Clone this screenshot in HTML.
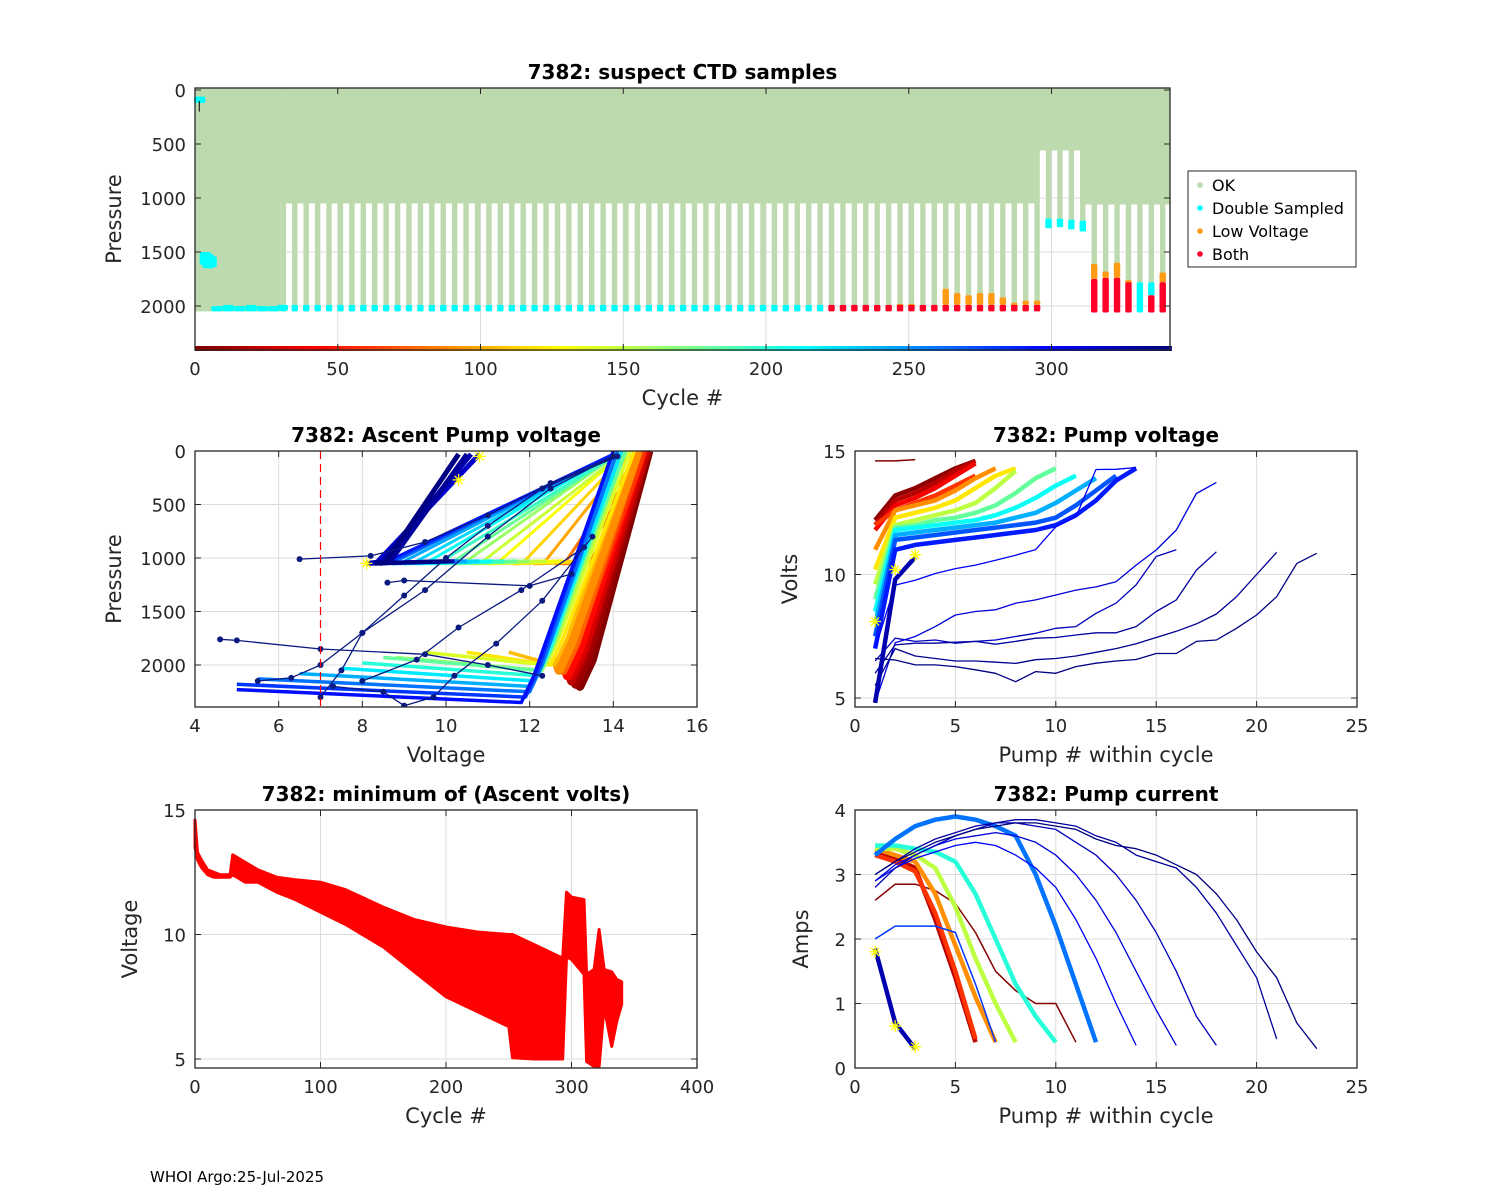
<!DOCTYPE html>
<html><head><meta charset="utf-8"><style>
html,body{margin:0;padding:0;background:#fff;}
svg{display:block;font-family:"DejaVu Sans","Liberation Sans",sans-serif;}
</style></head><body>
<svg id="fig" width="1500" height="1200" viewBox="0 0 1500 1200" xmlns="http://www.w3.org/2000/svg">
<rect x="0" y="0" width="1500" height="1200" fill="#fff"/>
<text x="150" y="1182" font-size="15" fill="#000">WHOI Argo:25-Jul-2025</text>
</svg>
<script>
// ---------- DATA: top chart (suspect CTD samples) ----------
const segStart = [0, 30, 295, 311];
const segEnd = [30, 295, 311, 341.5];
const segDepth = [2050, 1050, 560, 1060];
const deepCyc = [30,34,38,42,46,50,54,58,62,66,70,74,78,82,86,90,94,98,102,106,110,114,118,122,126,130,134,138,142,146,150,154,158,162,166,170,174,178,182,186,190,194,198,202,206,210,214,218,222,226,230,234,238,242,246,250,254,258,262,266,270,274,278,282,286,290,294,298,302,306,310,314,318,322,326,330,334,338];
const deepP = [2050,2050,2050,2050,2050,2050,2050,2050,2050,2050,2050,2050,2050,2050,2050,2050,2050,2050,2050,2050,2050,2050,2050,2050,2050,2050,2050,2050,2050,2050,2050,2050,2050,2050,2050,2050,2050,2050,2050,2050,2050,2050,2050,2050,2050,2050,2050,2050,2050,2050,2050,2050,2050,2050,2050,2050,2050,2050,2050,2050,2050,2050,2050,2050,2050,2050,2050,1280,1270,1290,1310,2060,2060,2060,2060,2060,2060,2060];
const orangeTop = [null,null,null,null,null,null,null,null,null,null,null,null,null,null,null,null,null,null,null,null,null,null,null,null,null,null,null,null,null,null,null,null,null,null,null,null,null,null,null,null,null,null,null,null,null,null,null,null,null,null,null,null,null,null,1980,1980,null,null,1840,1880,1900,1880,1880,1920,1970,1950,1950,null,null,null,null,1610,1680,1600,1760,null,null,1690];
const redTop = [null,null,null,null,null,null,null,null,null,null,null,null,null,null,null,null,null,null,null,null,null,null,null,null,null,null,null,null,null,null,null,null,null,null,null,null,null,null,null,null,null,null,null,null,null,null,null,null,1990,1990,1990,1990,1990,1990,1990,1990,1990,1990,1990,1990,1990,1990,1990,1990,1990,1990,1990,null,null,null,null,1750,1740,1740,1780,null,1900,1780];
const cyanTop = [1990,1990,1990,1990,1990,1990,1990,1990,1990,1990,1990,1990,1990,1990,1990,1990,1990,1990,1990,1990,1990,1990,1990,1990,1990,1990,1990,1990,1990,1990,1990,1990,1990,1990,1990,1990,1990,1990,1990,1990,1990,1990,1990,1990,1990,1990,1990,1990,null,null,null,null,null,null,null,null,null,null,null,null,null,null,null,null,null,null,null,1190,1190,1200,1210,null,null,null,null,1780,1780,null];
const earlyFlagCyc = [0, 2, 3, 4, 6, 10, 14, 18, 22, 26, 29];
const earlyFlagTop = [60, 1500, 1520, 1540, 2000, 1990, 2000, 1990, 2000, 2000, 1990];
const earlyFlagBot = [120, 1620, 1650, 1640, 2050, 2050, 2050, 2050, 2050, 2050, 2040];
const topXTicks = [0, 50, 100, 150, 200, 250, 300];
const topYTicks = [0, 500, 1000, 1500, 2000];

// ---------- DATA: ascent pump voltage ----------
const deepCycA = [2,10,20,30,45,60,75,90,105,120,140,160,180,200,220,240,260,280,294];
const firstV = [13.1,13.0,12.9,12.9,12.8,12.8,12.7,12.6,11.5,10.5,9.5,8.8,8.5,8.0,7.5,6.5,5.5,5.0,5.0];
const botV = [13.2,13.1,13.0,13.0,12.9,12.8,12.8,12.7,12.6,12.5,12.4,12.3,12.2,12.2,12.1,12.0,12.0,11.9,11.8];
const botP = [2200,2180,2150,2100,2100,2050,2050,2050,2000,2000,2000,2050,2050,2100,2150,2200,2250,2300,2350];
const topV = [14.85,14.8,14.8,14.75,14.7,14.7,14.6,14.6,14.5,14.5,14.4,14.3,14.3,14.2,14.2,14.1,14.1,14.0,14.0];
const shalCyc = [34,50,66,82,98,114,130,146,162,178,194,210,226,242,258,274,290,316,324,332,340];
const shalV1 = [13.2,13.0,12.8,12.6,12.1,11.6,11.0,10.6,10.2,9.9,9.6,9.3,9.0,8.7,8.5,8.4,8.3,8.1,8.2,8.4,8.3];
const shalTopV = [14.8,14.7,14.7,14.6,14.4,14.3,14.2,14.2,14.1,14.1,14.1,14.0,14.0,14.0,14.0,14.0,14.0,10.8,10.6,10.5,10.3];
const oddV = [[6.5,8.2,9.5,11,12.5,14],[4.6,5,7,9.5,11,12.3],[5.5,6.3,7,8,9.5,11,12.5,14],[7.0,7.5,8,9,10,11,12.3,14.1],[7.3,8.5,9.0,9.7,10.2,11.2,12.3,13.5],[8.6,9,12,13],[8.0,9.3,10.3,11.8,13.3]];
const oddP = [[1010,980,850,600,300,50],[1760,1770,1850,1900,2000,2100],[2150,2120,2000,1700,1300,800,350,50],[2300,2050,1700,1350,1000,700,350,50],[2200,2250,2380,2300,2100,1800,1400,800],[1230,1210,1260,1150],[2150,1950,1650,1300,900]];
const starV = [10.8, 10.3, 8.1];
const starP = [50, 270, 1050];
const mlXTicks = [4, 6, 8, 10, 12, 14, 16];
const mlYTicks = [0, 500, 1000, 1500, 2000];

// ---------- DATA: pump voltage ----------
const pvCyc = [0,5,20,40,60,90,120,150,180,210,240,270,290,300,310,320,330,335,340,325];
const pvVals = [
 [14.6,14.6,14.65],
 [12.2,13.2,13.5,13.9,14.3,14.6],
 [12.0,13.0,13.3,13.7,14.2,14.6],
 [11.8,12.8,13.1,13.5,14.0,14.5],
 [12.0,12.6,12.9,13.2,13.6,14.0],
 [11.0,12.6,12.8,13.0,13.4,13.9,14.3],
 [10.2,12.3,12.5,12.7,13.0,13.5,14.0,14.3],
 [9.6,12.0,12.2,12.4,12.6,12.9,13.5,14.2],
 [9.0,11.9,12.0,12.2,12.3,12.5,12.8,13.3,13.9,14.3],
 [8.5,11.8,11.9,12.0,12.1,12.2,12.4,12.7,13.1,13.6,14.0],
 [8.0,11.6,11.7,11.8,11.9,12.0,12.1,12.3,12.5,12.9,13.4,13.9],
 [7.5,11.4,11.5,11.6,11.7,11.8,11.9,12.0,12.1,12.3,12.8,13.4,14.0],
 [7.0,11.0,11.2,11.3,11.4,11.5,11.6,11.7,11.8,12.0,12.4,13.0,13.8,14.3],
 [7.0,9.57,9.77,10.04,10.24,10.38,10.58,10.78,11.01,11.93,12.33,14.25,14.26,14.33],
 [4.8,7.24,7.49,7.89,8.36,8.5,8.57,8.84,8.97,9.17,9.37,9.5,9.71,10.38,10.99,11.8,13.28,13.73],
 [6.5,7.42,7.29,7.35,7.22,7.29,7.35,7.49,7.62,7.82,7.89,8.43,8.84,9.58,10.73,11.0],
 [6.0,7.15,7.22,7.22,7.26,7.29,7.18,7.29,7.42,7.45,7.55,7.64,7.64,7.89,8.5,8.97,10.18,10.92],
 [5.5,7.0,6.7,6.6,6.5,6.5,6.45,6.4,6.55,6.6,6.7,6.85,7.0,7.2,7.45,7.7,8.0,8.4,9.1,10.0,10.9],
 [6.6,6.54,6.34,6.34,6.27,6.14,6.0,5.66,6.07,6.0,6.27,6.41,6.5,6.56,6.8,6.8,7.29,7.35,7.82,8.36,9.1,10.45,10.86],
 [4.8,9.8,10.7]
];
const pvStarN = [1, 2, 3];
const pvStarV = [8.1, 10.2, 10.8];
const prXTicks = [0, 5, 10, 15, 20, 25];
const pvYTicks = [5, 10, 15];

// ---------- DATA: pump current ----------
const pcCyc = [2,20,60,90,150,200,260,280,300,310,320,330,340,325];
const pcVals = [
 [2.6,2.85,2.85,2.75,2.55,2.1,1.5,1.2,1.0,1.0,0.4],
 [3.35,3.25,3.1,2.3,1.4,0.4],
 [3.3,3.2,3.05,2.4,1.5,0.45],
 [3.4,3.3,3.2,2.7,1.9,1.1,0.4],
 [3.4,3.4,3.3,3.1,2.5,1.7,1.0,0.4],
 [3.45,3.45,3.4,3.35,3.2,2.7,2.0,1.3,0.8,0.4],
 [3.3,3.55,3.75,3.85,3.9,3.85,3.75,3.6,3.0,2.2,1.3,0.4],
 [2.0,2.2,2.2,2.2,2.1,1.3,0.4],
 [2.9,3.1,3.25,3.35,3.45,3.5,3.45,3.3,3.1,2.8,2.3,1.7,1.0,0.35],
 [2.9,3.15,3.3,3.45,3.55,3.6,3.65,3.6,3.5,3.3,3.0,2.6,2.1,1.5,0.9,0.35],
 [2.8,3.1,3.3,3.45,3.6,3.7,3.8,3.8,3.75,3.7,3.5,3.3,3.0,2.6,2.1,1.5,0.8,0.35],
 [3.0,3.2,3.4,3.55,3.65,3.75,3.8,3.85,3.85,3.8,3.75,3.6,3.5,3.3,3.2,3.1,2.8,2.4,1.9,1.4,0.45],
 [3.0,3.2,3.35,3.5,3.6,3.7,3.75,3.8,3.8,3.75,3.7,3.55,3.45,3.4,3.3,3.15,3.0,2.7,2.3,1.8,1.4,0.7,0.3],
 [1.85,0.7,0.3]
];
const pcStarN = [1, 2, 3];
const pcStarA = [1.8, 0.65, 0.33];
const pcYTicks = [0, 1, 2, 3, 4];

// ---------- DATA: minimum ascent volts ----------
const minCyc = [0,2,5,10,15,20,28,30,40,50,65,80,100,120,150,175,200,225,250,253,270,293,296,300,310,312,318,322,326,332,336,340];
const minHi = [14.6,13.3,13.0,12.6,12.5,12.4,12.4,13.2,12.9,12.6,12.3,12.2,12.1,11.8,11.1,10.6,10.3,10.1,10.0,10.0,9.6,9.05,11.7,11.5,11.4,8.4,8.6,10.2,8.6,8.5,8.2,8.1];
const minLo = [13.5,13.0,12.7,12.4,12.3,12.3,12.3,12.4,12.1,12.1,11.7,11.4,10.9,10.4,9.5,8.5,7.5,6.9,6.3,5.05,5.0,5.0,9.1,9.0,8.4,4.9,4.7,4.7,7.1,5.5,6.5,7.2];
const blXTicks = [0, 100, 200, 300, 400];
const blYTicks = [5, 10, 15];

// ---------- helpers ----------
const NS = "http://www.w3.org/2000/svg";
const svg = document.getElementById("fig");
function mk(tag, attrs, parent) {
  const e = document.createElementNS(NS, tag);
  for (const k in attrs) e.setAttribute(k, attrs[k]);
  (parent || svg).appendChild(e);
  return e;
}
function clamp(v){return Math.max(0, Math.min(1, v));}
function jet(t){
  const r = clamp(1.5 - Math.abs(4*t - 3));
  const g = clamp(1.5 - Math.abs(4*t - 2));
  const b = clamp(1.5 - Math.abs(4*t - 1));
  return "rgb(" + Math.round(r*255) + "," + Math.round(g*255) + "," + Math.round(b*255) + ")";
}
function cycColor(c){ return jet(1 - c/341); }
function lin(d0, d1, r0, r1){ return v => r0 + (v - d0) * (r1 - r0) / (d1 - d0); }

function axes(name, box, xs, ys, xticks, yticks, xlabel, ylabel, title) {
  const g = mk("g", {});
  
  
  mk("rect", {x: box.l, y: box.t, width: box.r - box.l, height: box.b - box.t, fill: "#fff"}, g);
  const grid = mk("g", {stroke: "#dcdcdc", "stroke-width": 1}, g);
  
  
  xticks.forEach(v => { const x = xs(v); mk("line", {x1: x, x2: x, y1: box.t, y2: box.b}, grid); });
  yticks.forEach(v => { const y = ys(v); mk("line", {x1: box.l, x2: box.r, y1: y, y2: y}, grid); });
  const plot = mk("g", {}, g);
  return {g, plot, box, finish: function(){
    const fr = mk("g", {}, g);
    mk("rect", {x: box.l, y: box.t, width: box.r - box.l, height: box.b - box.t, fill: "none", stroke: "#262626", "stroke-width": 1.3}, fr);
    xticks.forEach(v => {
      const x = xs(v);
      mk("line", {x1: x, x2: x, y1: box.b, y2: box.b - 6, stroke: "#262626"}, fr);
      mk("line", {x1: x, x2: x, y1: box.t, y2: box.t + 6, stroke: "#262626"}, fr);
      const t = mk("text", {x: x, y: box.b + 25, "font-size": 18, "text-anchor": "middle", fill: "#262626"}, fr);
      t.textContent = v;
      
      
    });
    yticks.forEach(v => {
      const y = ys(v);
      mk("line", {x1: box.l, x2: box.l + 6, y1: y, y2: y, stroke: "#262626"}, fr);
      mk("line", {x1: box.r, x2: box.r - 6, y1: y, y2: y, stroke: "#262626"}, fr);
      const t = mk("text", {x: box.l - 9, y: y + 7, "font-size": 18, "text-anchor": "end", fill: "#262626"}, fr);
      t.textContent = v;
      
      
    });
    const xl = mk("text", {x: (box.l + box.r)/2, y: box.b + 55, "font-size": 21, "text-anchor": "middle", fill: "#262626"}, fr);
    xl.textContent = xlabel;
    
    
    const maxw = Math.max.apply(null, yticks.map(v => String(v).length));
    const yx = box.l - (maxw >= 4 ? 74 : (maxw >= 2 ? 58 : 47));
    const yl = mk("text", {x: yx, y: (box.t + box.b)/2, "font-size": 21, "text-anchor": "middle", fill: "#262626", transform: "rotate(-90 " + yx + " " + ((box.t + box.b)/2) + ")"}, fr);
    yl.textContent = ylabel;
    
    
    const tt = mk("text", {x: (box.l + box.r)/2, y: box.t - 9, "font-size": 20, "font-weight": "bold", "text-anchor": "middle", fill: "#000"}, fr);
    tt.textContent = title;
    
    
  }};
}
function poly(parent, pts, attrs) {
  return mk("polyline", Object.assign({points: pts.map(p => p[0].toFixed(1) + "," + p[1].toFixed(1)).join(" "), fill: "none", "stroke-linejoin": "round"}, attrs), parent);
}
function star(parent, x, y) {
  const s = 6;
  const d = "M" + (x-s) + "," + y + "H" + (x+s) + "M" + x + "," + (y-s) + "V" + (y+s) + "M" + (x-4) + "," + (y-4) + "L" + (x+4) + "," + (y+4) + "M" + (x-4) + "," + (y+4) + "L" + (x+4) + "," + (y-4);
  return mk("path", {d: d, stroke: "#ffff00", "stroke-width": 1.3, fill: "none"}, parent);
}

// ---------- TOP CHART ----------
(function(){
  const box = {l: 195, r: 1170, t: 88, b: 350};
  const xs = lin(0, 341.5, box.l, box.r);
  const ys = lin(0, 1000, 90, 198);
  const A = axes("ctd", box, xs, ys, topXTicks, topYTicks, "Cycle #", "Pressure", "7382: suspect CTD samples");
  const P = A.plot;
  segStart.forEach((s, i) => {
    const r = mk("rect", {x: xs(s), y: box.t, width: xs(segEnd[i]) - xs(s), height: ys(segDepth[i]) - box.t, fill: "#bddaae"}, P);
    
    
  });
  deepCyc.forEach((c, i) => {
    const r = mk("rect", {x: xs(c), y: box.t, width: xs(c + 1.9) - xs(c), height: ys(deepP[i]) - box.t, fill: "#bddaae"}, P);
    
    
  });
  function flag(c, top, bot, col, nm){
    const r = mk("rect", {x: xs(c) - 0.5, y: ys(top), width: xs(c + 1.9) - xs(c) + 1, height: Math.max(4, ys(bot) - ys(top)), fill: col, rx: 1.5}, P);
    
    
  }
  deepCyc.forEach((c, i) => {
    const bot = deepP[i];
    if (orangeTop[i] !== null) flag(c, orangeTop[i], redTop[i] !== null ? redTop[i] : bot, "#ff9b14", "low-voltage-sample");
    if (cyanTop[i] !== null) flag(c, cyanTop[i], redTop[i] !== null ? redTop[i] : bot, "#00ffff", "double-sampled-sample");
    if (redTop[i] !== null) flag(c, redTop[i], bot, "#ff0028", "both-flag-sample");
  });
  earlyFlagCyc.forEach((c, i) => {
    const r = mk("rect", {x: xs(c) - 1, y: ys(earlyFlagTop[i]), width: xs(c + 4) - xs(c), height: ys(earlyFlagBot[i]) - ys(earlyFlagTop[i]), fill: "#00ffff", rx: 2}, P);
    
    
  });
  mk("line", {x1: xs(1.5), x2: xs(1.5), y1: ys(100), y2: ys(200), stroke: "#000", "stroke-width": 1}, P);
  for (let c = 0; c <= 341; c++) {
    const r = mk("rect", {x: xs(c), y: box.b - 4, width: xs(c + 1) - xs(c) + 0.5, height: 5, fill: cycColor(c)}, P);
    
    
  }
  A.finish();
  const lg = mk("g", {});
  
  
  mk("rect", {x: 1188, y: 171, width: 168, height: 96, fill: "#fff", stroke: "#262626", "stroke-width": 1}, lg);
  const items = [["OK", "#bddaae"], ["Double Sampled", "#00ffff"], ["Low Voltage", "#ff9b14"], ["Both", "#ff0028"]];
  items.forEach((it, i) => {
    const y = 185 + i * 23;
    const e = mk("g", {}, lg);
    
    
    mk("circle", {cx: 1200, cy: y, r: 2.8, fill: it[1]}, e);
    const t = mk("text", {x: 1212, y: y + 6, "font-size": 16, fill: "#000"}, e);
    t.textContent = it[0];
  });
})();

// ---------- ASCENT PUMP VOLTAGE ----------
(function(){
  const box = {l: 195, r: 697, t: 451, b: 707};
  const xs = lin(4, 16, box.l, box.r);
  const ys = lin(0, 2000, 451, 665);
  const A = axes("ascent-voltage", box, xs, ys, mlXTicks, mlYTicks, "Voltage", "Pressure", "7382: Ascent Pump voltage");
  const P = A.plot;
  const clip = mk("clipPath", {id: "clipML"}, svg);
  mk("rect", {x: box.l, y: box.t, width: box.r - box.l, height: box.b - box.t}, clip);
  P.setAttribute("clip-path", "url(#clipML)");
  shalCyc.forEach((c, i) => {
    const col = cycColor(c);
    const pts = [[xs(shalV1[i]), ys(1050)], [xs(shalV1[i] + 0.25), ys(1040)], [xs(shalTopV[i]), ys(30)]];
    const l = poly(P, pts, {stroke: col, "stroke-width": c > 310 ? 5 : 3});
    
    
    const h = mk("line", {x1: xs(shalV1[i]), x2: xs(Math.min(shalV1[i] + 1.8, 13.6)), y1: ys(1050), y2: ys(1030), stroke: col, "stroke-width": 4}, P);
    
    
  });
  deepCycA.forEach((c, i) => {
    const col = cycColor(c);
    const pts = [[xs(firstV[i]), ys(botP[i] - 120)], [xs(botV[i]), ys(botP[i])], [xs(botV[i] + 0.3), ys(botP[i] - 250)], [xs(topV[i]), ys(0)]];
    const l = poly(P, pts, {stroke: col, "stroke-width": c < 100 ? 9 : 3.5});
    
    
  });
  oddV.forEach((vs, k) => {
    const pts = vs.map((v, j) => [xs(v), ys(oddP[k][j])]);
    const l = poly(P, pts, {stroke: "#0a1a80", "stroke-width": 1.3});
    
    
    pts.forEach(p => {
      const d = mk("circle", {cx: p[0], cy: p[1], r: 3, fill: "#0a1a80"}, P);
      
      
    });
  });
  const dl = mk("line", {x1: xs(7), x2: xs(7), y1: box.t, y2: box.b, stroke: "#ff0000", "stroke-width": 1.2, "stroke-dasharray": "8,5"}, P);
  
  
  starV.forEach((v, i) => {
    const s = star(P, xs(v), ys(starP[i]));
    
    
  });
  A.finish();
})();

// ---------- PUMP VOLTAGE ----------
(function(){
  const box = {l: 855, r: 1357, t: 451, b: 707};
  const xs = lin(0, 25, box.l, box.r);
  const ys = lin(15, 5, 451, 698);
  const A = axes("pump-voltage", box, xs, ys, prXTicks, pvYTicks, "Pump # within cycle", "Volts", "7382: Pump voltage");
  const P = A.plot;
  pvVals.forEach((vals, k) => {
    const c = pvCyc[k];
    const pts = vals.map((v, j) => [xs(j + 1), ys(v)]);
    const w = (c >= 300 && c !== 325) ? 1.3 : (c === 0 ? 1.5 : 4.5);
    const l = poly(P, pts, {stroke: cycColor(c), "stroke-width": w});
    
    
  });
  pvStarN.forEach((n, i) => {
    const s = star(P, xs(n), ys(pvStarV[i]));
    
    
  });
  A.finish();
})();

// ---------- MINIMUM OF ASCENT VOLTS ----------
(function(){
  const box = {l: 195, r: 697, t: 810, b: 1068};
  const xs = lin(0, 400, box.l, box.r);
  const ys = lin(15, 5, 810, 1059);
  const A = axes("min-volts", box, xs, ys, blXTicks, blYTicks, "Cycle #", "Voltage", "7382: minimum of (Ascent volts)");
  const P = A.plot;
  const pts = minCyc.map((c, i) => [xs(c), ys(minHi[i])]).concat(minCyc.slice().reverse().map((c, j) => { const i = minCyc.length - 1 - j; return [xs(c), ys(minLo[i])]; }));
  const band = mk("polygon", {points: pts.map(p => p[0].toFixed(1) + "," + p[1].toFixed(1)).join(" "), fill: "#ff0000", stroke: "#ff0000", "stroke-width": 3, "stroke-linejoin": "round"}, P);
  
  
  A.finish();
})();

// ---------- PUMP CURRENT ----------
(function(){
  const box = {l: 855, r: 1357, t: 810, b: 1068};
  const xs = lin(0, 25, box.l, box.r);
  const ys = lin(0, 4, 1068, 810);
  const A = axes("pump-current", box, xs, ys, prXTicks, pcYTicks, "Pump # within cycle", "Amps", "7382: Pump current");
  const P = A.plot;
  pcVals.forEach((vals, k) => {
    const c = pcCyc[k];
    const pts = vals.map((v, j) => [xs(j + 1), ys(v)]);
    const w = (c >= 300 && c !== 325) ? 1.3 : (c === 2 || c === 280 ? 1.5 : 4.5);
    const l = poly(P, pts, {stroke: cycColor(c), "stroke-width": w});
    
    
  });
  pcStarN.forEach((n, i) => {
    const s = star(P, xs(n), ys(pcStarA[i]));
    
    
  });
  A.finish();
})();
</script>
</body></html>
